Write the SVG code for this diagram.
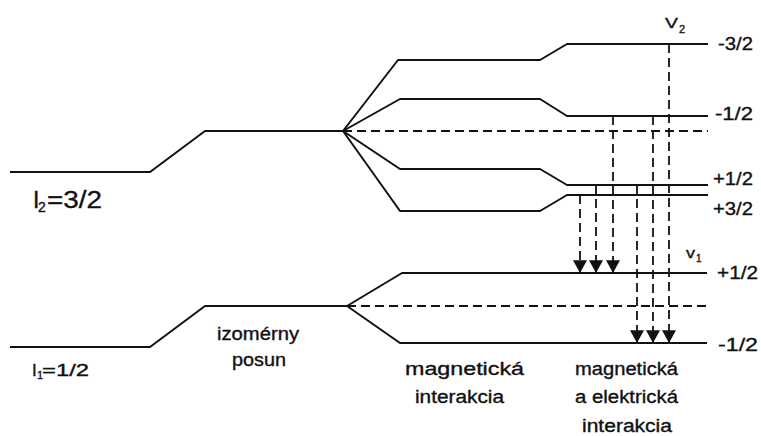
<svg xmlns="http://www.w3.org/2000/svg" width="761" height="436" viewBox="0 0 761 436">
  <style>
    .lvl { fill: none; stroke: #111; stroke-width: 2; stroke-linejoin: round; }
    .ref { fill: none; stroke: #111; stroke-width: 2; stroke-dasharray: 9 5; }
    .tr { fill: none; stroke: #111; stroke-width: 1.8; stroke-dasharray: 9 5; }
    text { font-family: "Liberation Sans", Arial, sans-serif; fill: #111; stroke: #111; stroke-width: 0.35; }
    .lab { font-size: 18px; text-anchor: middle; }
    .m { font-size: 19px; }
  </style>
  <defs>
    <marker id="head" markerUnits="userSpaceOnUse" markerWidth="14" markerHeight="14" refX="6" refY="12" orient="0" viewBox="0 0 12 12">
      <path d="M0,1 L12,1 L6,12 Z" fill="#111"/>
    </marker>
  </defs>

  <rect width="761" height="436" fill="#fff"/>

  <!-- excited state I2 = 3/2 -->
  <g id="level-I2">
    <path class="lvl" d="M10,172 H150 L205,131 H343"/>
    <text x="33" y="207.5" style="font-size:23px">I</text>
    <text x="38" y="212" style="font-size:14px">2</text>
    <text x="47" y="207.5" style="font-size:23px" textLength="55" lengthAdjust="spacingAndGlyphs">=3/2</text>
  </g>

  <!-- magnetic splitting of the excited state -->
  <g id="split-I2">
    <path class="ref" d="M343,131 H708"/>
    <path class="lvl" d="M343,131 L398,60 H540 L567,44 H708"/>
    <path class="lvl" d="M343,131 L400,99 H540 L567,116 H708"/>
    <path class="lvl" d="M343,131 L400,169 H540 L567,185 H708"/>
    <path class="lvl" d="M343,131 L400,211 H540 L567,195 H708"/>
    <text class="m" x="718" y="50" textLength="35" lengthAdjust="spacingAndGlyphs">-3/2</text>
    <text class="m" x="715" y="120" textLength="38" lengthAdjust="spacingAndGlyphs">-1/2</text>
    <text class="m" x="713" y="185" textLength="40" lengthAdjust="spacingAndGlyphs">+1/2</text>
    <text class="m" x="713" y="215" textLength="40" lengthAdjust="spacingAndGlyphs">+3/2</text>
    <text x="665" y="28" style="font-size:15px" textLength="13" lengthAdjust="spacingAndGlyphs">V</text>
    <text x="679" y="33" style="font-size:11px">2</text>
  </g>

  <!-- ground state I1 = 1/2 -->
  <g id="level-I1">
    <path class="lvl" d="M10,347 H150 L205,306 H347"/>
    <text x="32" y="376" style="font-size:17px">I</text>
    <text x="37" y="379" style="font-size:11px">1</text>
    <text x="42" y="376" style="font-size:17px" textLength="47" lengthAdjust="spacingAndGlyphs">=1/2</text>
  </g>

  <!-- magnetic splitting of the ground state -->
  <g id="split-I1">
    <path class="ref" d="M347,306 H707"/>
    <path class="lvl" d="M347,306 L402,273 H707"/>
    <path class="lvl" d="M347,306 L400,343 H707"/>
    <text class="m" x="717" y="279" textLength="41" lengthAdjust="spacingAndGlyphs">+1/2</text>
    <text class="m" x="718" y="351" textLength="40" lengthAdjust="spacingAndGlyphs">-1/2</text>
    <text x="686" y="258" style="font-size:15px" textLength="9" lengthAdjust="spacingAndGlyphs">v</text>
    <text x="696" y="262" style="font-size:10px">1</text>
  </g>

  <!-- gamma transitions -->
  <g id="transitions">
    <path class="tr" d="M580,195 V273" marker-end="url(#head)"/>
    <path class="tr" d="M596,185 V273" marker-end="url(#head)"/>
    <path class="tr" d="M613,116 V273" marker-end="url(#head)"/>
    <path class="tr" d="M637,185 V343" marker-end="url(#head)"/>
    <path class="tr" d="M653,116 V343" marker-end="url(#head)"/>
    <path class="tr" d="M669,44 V343" marker-end="url(#head)"/>
  </g>

  <!-- captions -->
  <g id="captions">
    <text class="lab" x="258" y="340" textLength="82" lengthAdjust="spacingAndGlyphs">izomérny</text>
    <text class="lab" x="259" y="366" textLength="54" lengthAdjust="spacingAndGlyphs">posun</text>
    <text class="lab" x="464.5" y="375" textLength="119" lengthAdjust="spacingAndGlyphs">magnetická</text>
    <text class="lab" x="459.5" y="403" textLength="89" lengthAdjust="spacingAndGlyphs">interakcia</text>
    <text class="lab" x="626.5" y="375" textLength="103" lengthAdjust="spacingAndGlyphs">magnetická</text>
    <text class="lab" x="626.5" y="403" textLength="103" lengthAdjust="spacingAndGlyphs">a elektrická</text>
    <text class="lab" x="627" y="432" textLength="90" lengthAdjust="spacingAndGlyphs">interakcia</text>
  </g>
</svg>
